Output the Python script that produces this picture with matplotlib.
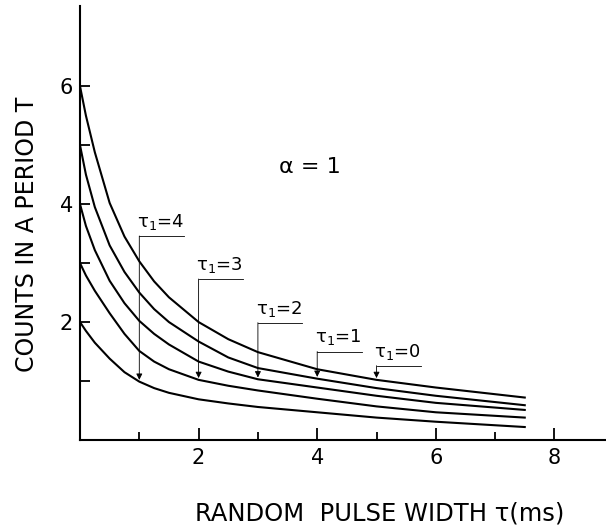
import matplotlib
matplotlib.use("Agg")
import matplotlib.pyplot as plt

plt.rcParams['font.family'] = ['DejaVu Sans']
plt.rcParams['mathtext.fontset'] = 'dejavusans'

tau_ms = [0, 0.1, 0.25, 0.5, 0.75, 1, 1.25, 1.5, 2, 2.5, 3, 4, 5, 6, 7.5]

# counts in a period T, one list per tau_1
counts_tau1_0 = [6.0, 5.5, 4.88, 4.02, 3.45, 3.03, 2.69, 2.42, 2.0, 1.71, 1.49, 1.20, 1.02, 0.89, 0.72]
counts_tau1_1 = [5.0, 4.5, 3.95, 3.30, 2.85, 2.5, 2.22, 2.0, 1.67, 1.40, 1.22, 1.04, 0.88, 0.75, 0.59]
counts_tau1_2 = [4.0, 3.63, 3.22, 2.70, 2.32, 2.02, 1.80, 1.62, 1.33, 1.16, 1.03, 0.89, 0.75, 0.63, 0.51]
counts_tau1_3 = [3.0, 2.79, 2.53, 2.15, 1.80, 1.51, 1.33, 1.2, 1.02, 0.92, 0.84, 0.70, 0.57, 0.47, 0.38]
counts_tau1_4 = [2.0, 1.85, 1.65, 1.38, 1.15, 0.99, 0.88, 0.80, 0.69, 0.62, 0.56, 0.47, 0.38, 0.31, 0.22]

tau1_values = [0, 1, 2, 3, 4]
curves = [counts_tau1_0, counts_tau1_1, counts_tau1_2, counts_tau1_3, counts_tau1_4]

# where each tau_1 label sits: arrow position on the x axis and bracket height
label_tau = [5, 4, 3, 2, 1]
label_height = [1.26, 1.50, 1.99, 2.73, 3.46]

fig = plt.figure(figsize=(6.06, 5.25), dpi=100)
ax = fig.add_axes([80 / 606, 85 / 525, 526 / 606, 434 / 525])

for c in curves:
    ax.plot(tau_ms, c, color='black', lw=1.5, solid_joinstyle='round')

# labelled arrows pointing at each curve
for t1, xa, yh in zip(tau1_values, label_tau, label_height):
    c = curves[t1]
    tip = c[tau_ms.index(xa)] + 0.03
    ax.annotate('', xy=(xa, tip), xytext=(xa, yh),
                arrowprops=dict(arrowstyle='-|>', lw=0.6, color='black',
                                mutation_scale=9, shrinkA=0, shrinkB=0))
    ax.plot([xa, xa + 0.75], [yh, yh], color='black', lw=0.6)
    ax.text(xa - 0.04, yh + 0.07, '\u03c4$_1$=%d' % t1, fontsize=13,
            ha='left', va='bottom')

ax.text(3.88, 4.63, '\u03b1 = 1', fontsize=16, ha='center', va='center')

ax.set_xlim(0, 8.87)
ax.set_ylim(0, 7.36)
for s in ['top', 'right']:
    ax.spines[s].set_visible(False)
for s in ['left', 'bottom']:
    ax.spines[s].set_linewidth(1.5)

ax.set_xticks([2, 4, 6, 8])
ax.set_xticks([1, 3, 5, 7], minor=True)
ax.set_yticks([2, 4, 6])
ax.set_yticks([1, 3, 5], minor=True)
ax.tick_params(axis='x', which='major', direction='in', length=8.5, width=1.3,
               labelsize=15, pad=6)
ax.tick_params(axis='x', which='minor', direction='in', length=5.5, width=1.3)
ax.tick_params(axis='y', which='both', direction='in', length=7, width=1.3,
               labelsize=15, pad=5)

fig.text(27 / 606, 1 - 234 / 525, 'COUNTS IN A PERIOD T', rotation=90,
         fontsize=17, ha='center', va='center')
fig.text(380 / 606, 1 - 513 / 525, 'RANDOM  PULSE WIDTH \u03c4(ms)',
         fontsize=17.5, ha='center', va='center')

fig.savefig('out.png', dpi=100)
